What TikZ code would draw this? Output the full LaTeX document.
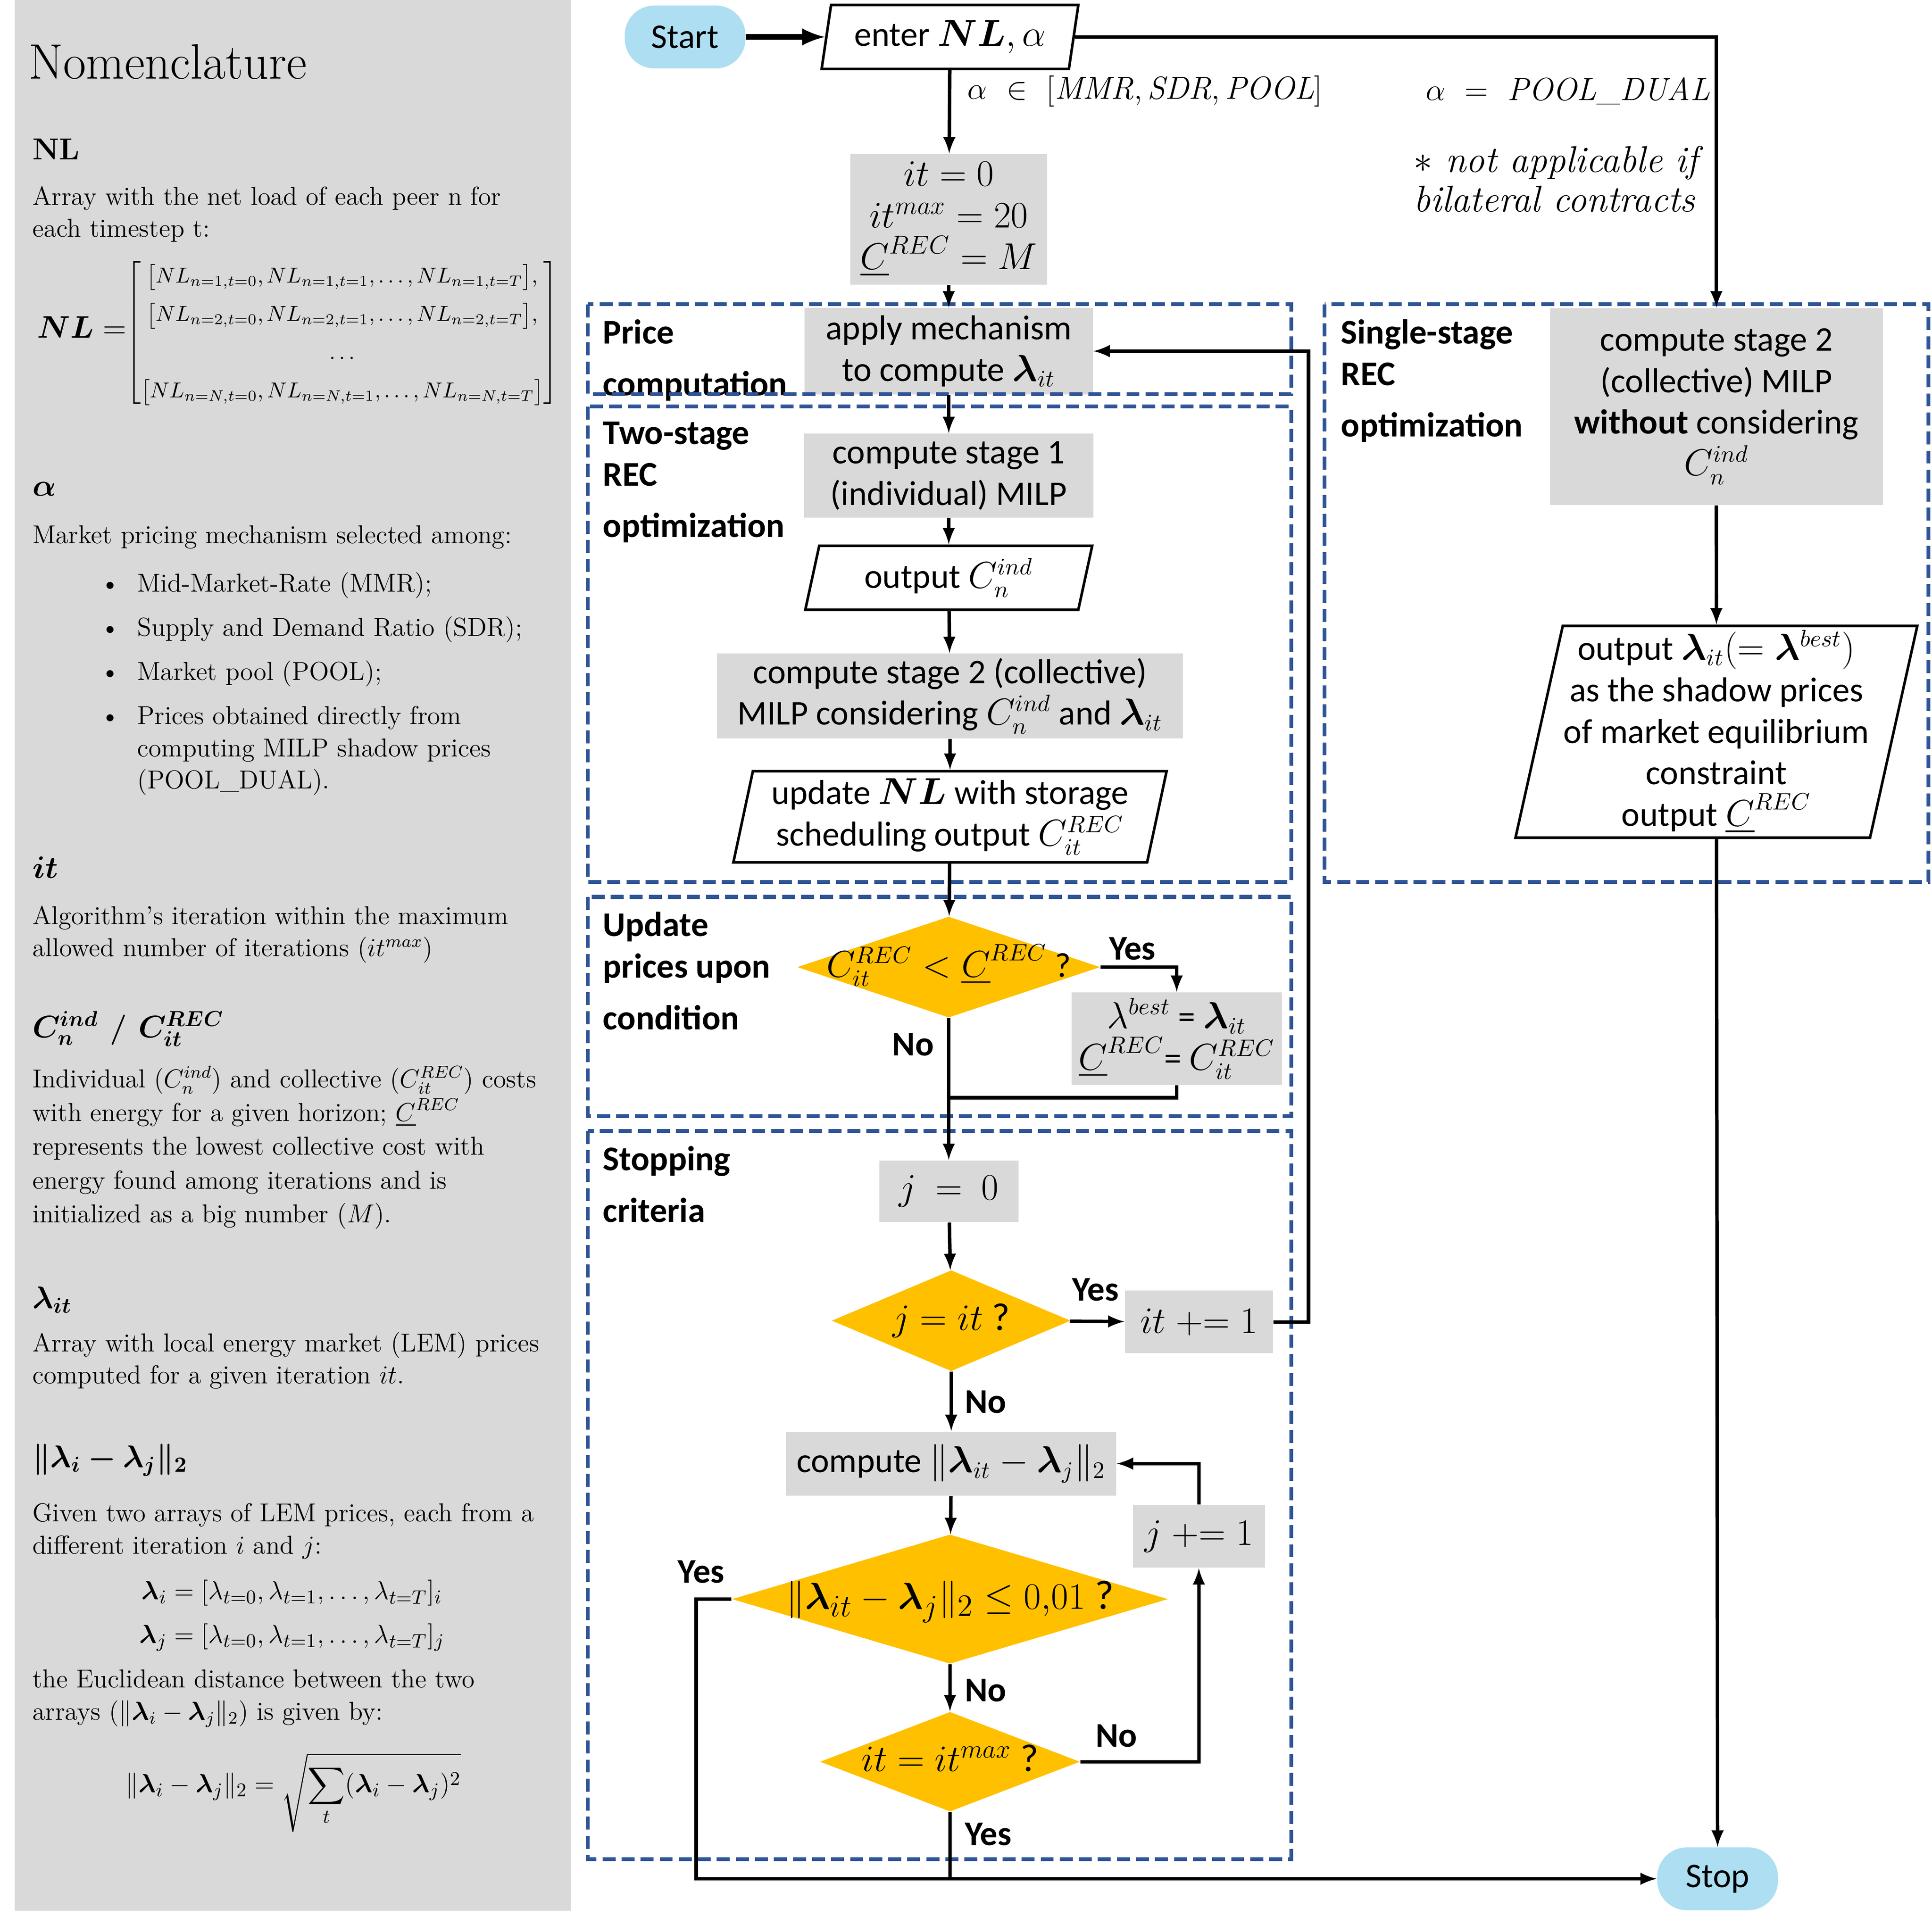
\documentclass[tikz,border=0pt]{standalone}
\usepackage{amsmath}
\usepackage{fontspec}
\usepackage{bm}
\newfontfamily\calibri{Carlito}
\usetikzlibrary{arrows,shapes.geometric}
\definecolor{boxgrey}{RGB}{217,217,217}
\definecolor{decyellow}{RGB}{255,192,0}
\definecolor{termblue}{RGB}{173,222,242}
\definecolor{stageblue}{RGB}{47,85,151}

\begin{document}
\begin{tikzpicture}[x=0.02cm,y=-0.02cm,
  flow/.style={-latex,line width=1.6pt},
  line/.style={line width=1.6pt},
  txt/.style={font=\calibri\fontsize{16}{19.2}\selectfont},
  proc/.style={txt,fill=boxgrey,align=center,inner sep=0pt},
  io/.style={txt,trapezium,trapezium left angle=77,trapezium right angle=103,trapezium stretches=true,draw,line width=1.2pt,fill=white,align=center,inner sep=0pt},
  decision/.style={txt,diamond,fill=decyellow,inner sep=0pt,text height=9pt,text depth=0pt},
  terminal/.style={txt,fill=termblue,rounded corners=0.48cm,inner sep=0pt,minimum width=1.96cm,minimum height=1.02cm},
  stage/.style={draw=stageblue,line width=1.8pt,dash pattern=on 6pt off 2.8pt},
  stagelabel/.style={font=\calibri\bfseries\fontsize{16}{19.2}\selectfont,anchor=north west,align=left,inner sep=0pt},
  answer/.style={font=\calibri\bfseries\fontsize{16}{19.2}\selectfont,inner sep=0pt},
  nomtext/.style={font=\fontsize{12}{14.8}\selectfont,anchor=north west,align=left,inner sep=0pt},
  nomhead/.style={font=\fontsize{14}{17}\selectfont\bfseries,anchor=west,inner sep=0pt},
  nomeq/.style={font=\fontsize{12.6}{15}\selectfont,inner sep=0pt}]

\useasboundingbox (0,0) rectangle (1568,1562.2);
\fill[boxgrey] (12,0) rectangle (463,1551);

\node[font=\fontsize{23}{26}\selectfont,anchor=west,inner sep=0pt] (nomtitle) at (23,50) {Nomenclature};
\node[nomhead] (hnl) at (26,121) {NL};
\node[nomtext] (pnl) at (26,151) {Array with the net load of each peer n for\\each timestep t:};
\node[anchor=west,inner sep=0pt,font=\fontsize{10.2}{12.2}\selectfont] (mnl) at (30,270) {{\fontsize{14}{16}\selectfont$\bm{NL}=$}\renewcommand{\arraystretch}{1.45}$\left[\begin{array}{@{}c@{}}\bigl[NL_{n=1,t=0},NL_{n=1,t=1},\dots,NL_{n=1,t=T}\bigr],\\ \bigl[NL_{n=2,t=0},NL_{n=2,t=1},\dots,NL_{n=2,t=T}\bigr],\\ \dots\\ \bigl[NL_{n=N,t=0},NL_{n=N,t=1},\dots,NL_{n=N,t=T}\bigr]\end{array}\right]$};
\node[nomhead] (halpha) at (26,397) {$\bm{\alpha}$};
\node[nomtext] (palpha) at (26,426) {Market pricing mechanism selected among:};
\node[nomtext] (lalpha) at (81,462) {\begin{tabular}{@{}l@{\hspace{8pt}}l@{}}
\textbullet & Mid-Market-Rate (MMR);\\[5.6pt]
\textbullet & Supply and Demand Ratio (SDR);\\[5.6pt]
\textbullet & Market pool (POOL);\\[5.6pt]
\textbullet & Prices obtained directly from\\
 & computing MILP shadow prices\\
 & (POOL\_DUAL).
\end{tabular}};
\node[nomhead] (hit) at (26,704) {$\bm{it}$};
\node[nomtext] (pit) at (26,735) {Algorithm’s iteration within the maximum\\allowed number of iterations ($it^{max}$)};
\node[nomhead] (hcost) at (26,835) {$\bm{C_n^{ind}}$ / $\bm{C_{it}^{REC}}$};
\node[nomtext,font=\fontsize{12}{15.6}\selectfont] (pcost) at (26,865) {Individual ($C_n^{ind}$) and collective ($C_{it}^{REC}$) costs\\with energy for a given horizon; $\underline{C}^{REC}$\\represents the lowest collective cost with\\energy found among iterations and is\\initialized as a big number ($M$).};
\node[nomhead] (hlambda) at (26,1055) {$\bm{\lambda_{it}}$};
\node[nomtext] (plambda) at (26,1081) {Array with local energy market (LEM) prices\\computed for a given iteration $it$.};
\node[nomhead] (hnorm) at (26,1185) {$\bm{\|\lambda_i-\lambda_j\|_2}$};
\node[nomtext] (pnorm) at (26,1220) {Given two arrays of LEM prices, each from a\\different iteration $i$ and $j$:};
\node[nomeq] (eqi) at (237,1293) {$\bm{\lambda}_i=[\lambda_{t=0},\lambda_{t=1},\dots,\lambda_{t=T}]_i$};
\node[nomeq] (eqj) at (237,1329) {$\bm{\lambda}_j=[\lambda_{t=0},\lambda_{t=1},\dots,\lambda_{t=T}]_j$};
\node[nomtext] (pdist) at (26,1355) {the Euclidean distance between the two\\arrays ($\|\bm{\lambda}_i-\bm{\lambda}_j\|_2$) is given by:};
\node[nomeq] (eqdist) at (238,1455) {$\displaystyle\|\bm{\lambda}_i-\bm{\lambda}_j\|_2=\sqrt{\sum_t(\bm{\lambda}_i-\bm{\lambda}_j)^2}$};

\node[terminal] (start) at (556,30) {Start};
\node[io,minimum width=4.2cm,minimum height=1.04cm] (enter) at (771,30) {enter $\bm{NL},\alpha$};
\node[proc,minimum width=3.2cm,minimum height=2.12cm,font=\calibri\fontsize{18}{19.2}\selectfont] (init) at (770,178) {$it=0$\\$it^{max}=20$\\$\underline{C}^{REC}=M$};
\node[proc,minimum width=4.68cm,minimum height=1.4cm] (apply) at (770,285) {apply mechanism\\to compute $\bm{\lambda}_{it}$};
\node[proc,minimum width=4.7cm,minimum height=1.36cm] (stage1) at (770,386) {compute stage 1\\(individual) MILP};
\node[io,minimum width=4.7cm,minimum height=1.04cm] (outind) at (770,469) {output $C_n^{ind}$};
\node[proc,minimum width=7.56cm,minimum height=1.38cm] (stage2) at (771,565) {compute stage 2 (collective)\\MILP considering $C_n^{ind}$ and $\bm{\lambda}_{it}$};
\node[io,minimum width=7.04cm,minimum height=1.48cm] (update) at (771,663) {update $\bm{NL}$ with storage\\scheduling output $C_{it}^{REC}$};
\node[decision,shape aspect=3,minimum width=4.92cm,minimum height=1.64cm] (cond) at (770,785) {$C_{it}^{REC}<\underline{C}^{REC}$ ?};
\node[proc,minimum width=3.42cm,minimum height=1.5cm] (best) at (955,843) {$\lambda^{best}$ = $\bm{\lambda}_{it}$\\$\underline{C}^{REC}$= $C_{it}^{REC}$};
\node[proc,minimum width=2.26cm,minimum height=1cm,font=\calibri\fontsize{18}{19.2}\selectfont] (jzero) at (770,967) {$j\ =\ 0$};
\node[decision,shape aspect=2.37,minimum width=3.88cm,minimum height=1.64cm,font=\calibri\fontsize{18}{19.2}\selectfont] (jit) at (772,1072) {$j=it$ ?};
\node[proc,minimum width=2.4cm,minimum height=1.02cm,font=\calibri\fontsize{18}{19.2}\selectfont] (itinc) at (973,1073) {$it\mathrel{+{=}}1$};
\node[proc,minimum width=5.36cm,minimum height=1.04cm] (norm) at (772,1188) {compute $\|\bm{\lambda}_{it}-\bm{\lambda}_j\|_2$};
\node[decision,shape aspect=3.37,minimum width=7.08cm,minimum height=2.1cm,font=\calibri\fontsize{19}{19.2}\selectfont] (conv) at (771,1298) {$\|\bm{\lambda}_{it}-\bm{\lambda}_j\|_2\leq 0{,}01$ ?};
\node[proc,minimum width=2.14cm,minimum height=1.02cm,font=\calibri\fontsize{18}{19.2}\selectfont] (jinc) at (973,1247) {$j\mathrel{+{=}}1$};
\node[decision,shape aspect=2.6,minimum width=4.22cm,minimum height=1.62cm,font=\calibri\fontsize{18}{19.2}\selectfont] (itmax) at (771,1430) {$it=it^{max}$ ?};
\node[terminal] (stop) at (1394,1525) {Stop};
\node[proc,minimum width=5.4cm,minimum height=3.2cm] (single) at (1393,330) {compute stage 2\\(collective) MILP\\\textbf{without} considering\\$C_n^{ind}$};
\node[io,minimum width=6.54cm,minimum height=3.44cm] (outsingle) at (1393,594) {output $\bm{\lambda}_{it}(=\bm{\lambda}^{best})$\\as the shadow prices\\of market equilibrium\\constraint\\output $\underline{C}^{REC}$};

\node[font=\fontsize{14.8}{18}\selectfont,anchor=west,inner sep=0pt] (alphaset) at (785,74) {$\alpha\ \in\ [\mathit{MMR},\mathit{SDR},\mathit{POOL}]$};
\node[font=\fontsize{14.8}{18}\selectfont,anchor=west,inner sep=0pt] (alphadual) at (1157,74) {$\alpha\ =\ \mathit{POOL\_DUAL}$};
\node[font=\fontsize{17.2}{18.4}\selectfont\itshape,anchor=north west,align=left,inner sep=0pt] (note) at (1147,118) {$\ast$ not applicable if\\bilateral contracts};

\node[stagelabel] (lprice) at (489,259) {Price\\[4.6pt]computation};
\node[stagelabel] (ltwo) at (489,342) {Two-stage\\REC\\[4.6pt]optimization};
\node[stagelabel] (lupdate) at (489,740) {Update\\prices upon\\[4.6pt]condition};
\node[stagelabel] (lstop) at (489,930) {Stopping\\[4.6pt]criteria};
\node[stagelabel] (lsingle) at (1088,259) {Single-stage\\REC\\[4.6pt]optimization};

\draw[stage] (477,247) rectangle (1048,320);
\draw[stage] (477,330) rectangle (1048,716);
\draw[stage] (477,728) rectangle (1048,906);
\draw[stage] (477,918) rectangle (1048,1509);
\draw[stage] (1075,247) rectangle (1565,716);

\coordinate (merge) at (771,891);
\coordinate (back) at (1062,1073);
\coordinate (yesleft) at (565,1298);

\draw[flow,line width=2.6pt] (start) -- (enter);
\draw[flow] (enter.east) -| (single.north);
\draw[flow] (enter) -- (init);
\draw[flow] (init) -- (apply);
\draw[flow] (apply) -- (stage1);
\draw[flow] (stage1) -- (outind);
\draw[flow] (outind) -- (stage2);
\draw[flow] (stage2) -- (update);
\draw[flow] (update) -- (cond);
\draw[flow] (cond.east) -| (best.north);
\draw[line] (best.south) |- (merge);
\draw[flow] (cond) -- (jzero);
\draw[flow] (jzero) -- (jit);
\draw[flow] (jit) -- (itinc);
\draw[flow] (itinc) -- (back) |- (apply.east);
\draw[flow] (jit) -- (norm);
\draw[flow] (norm) -- (conv);
\draw[flow] (conv.west) -- (yesleft) |- (stop.west);
\draw[flow] (conv) -- (itmax);
\draw[flow] (itmax.east) -| (jinc.south);
\draw[flow] (jinc.north) |- (norm.east);
\draw[line] (itmax.south) -- (itmax |- stop);
\draw[flow] (single) -- (outsingle);
\draw[flow] (outsingle) -- (stop);

\node[answer] (ycond) at (919,770) {Yes};
\node[answer] (ncond) at (741,848) {No};
\node[answer] (yjit) at (889,1047) {Yes};
\node[answer] (njit) at (800,1138) {No};
\node[answer] (yconv) at (569,1276) {Yes};
\node[answer] (nconv) at (800,1372) {No};
\node[answer] (nitmax) at (906,1409) {No};
\node[answer] (yitmax) at (802,1489) {Yes};

\end{tikzpicture}
\end{document}
